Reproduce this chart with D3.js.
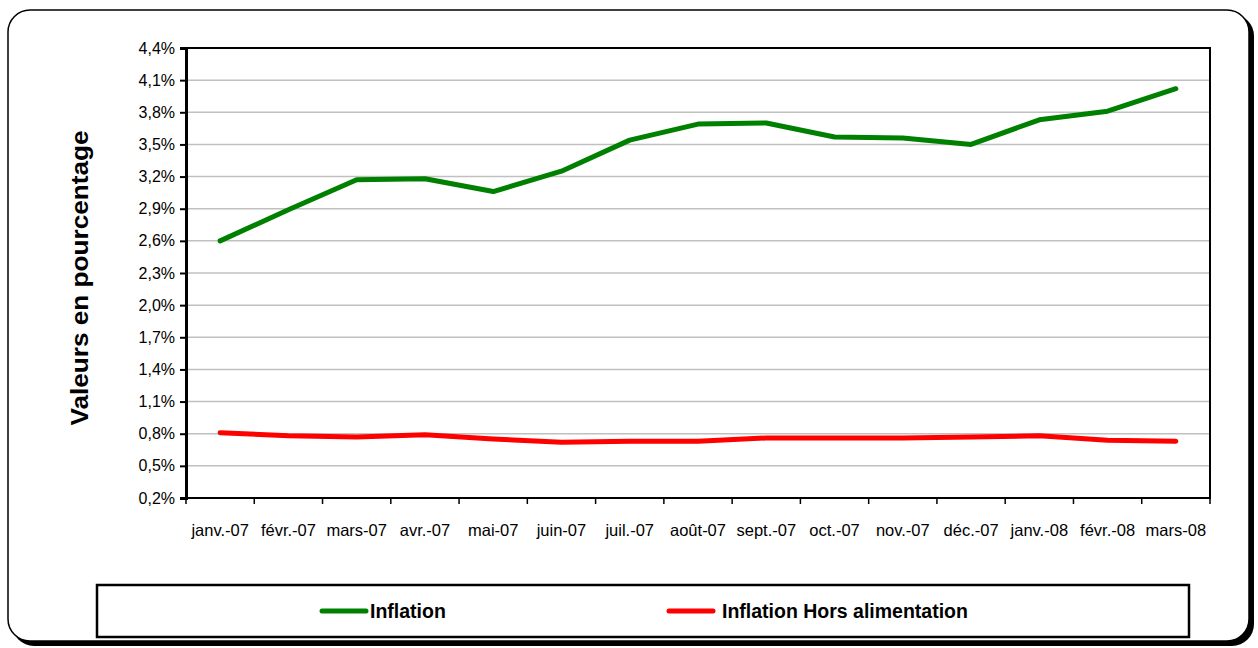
<!DOCTYPE html>
<html>
<head>
<meta charset="utf-8">
<script src="https://cdn.jsdelivr.net/npm/d3@7"></script>
<style>
body{margin:0;background:#fff;}
text{font-family:Arial,"Liberation Sans",sans-serif;}
</style>
</head>
<body>
<svg id="chart" width="1258" height="648"></svg>
<script>
var months = ['janv.-07','févr.-07','mars-07','avr.-07','mai-07','juin-07','juil.-07','août-07','sept.-07','oct.-07','nov.-07','déc.-07','janv.-08','févr.-08','mars-08'];
var inflation = [2.60,2.89,3.17,3.18,3.06,3.25,3.54,3.69,3.70,3.57,3.56,3.50,3.73,3.81,4.02];
var horsAlim = [0.81,0.78,0.77,0.79,0.75,0.72,0.73,0.73,0.76,0.76,0.76,0.77,0.78,0.74,0.73];
var yTicks = [0.2,0.5,0.8,1.1,1.4,1.7,2.0,2.3,2.6,2.9,3.2,3.5,3.8,4.1,4.4];
var seriesNames = ['Inflation','Inflation Hors alimentation'];
var colors = ['#008000','#ff0000'];

var svg = d3.select('#chart');

// outer frame with shadow
svg.append('rect').attr('x',12).attr('y',14).attr('width',1242).attr('height',632)
	.attr('rx',22).attr('fill','#000');
svg.append('rect').attr('x',8).attr('y',10).attr('width',1241).attr('height',631)
	.attr('rx',22).attr('fill','#fff').attr('stroke','#000').attr('stroke-width',1.5);

var pLeft = 186, pRight = 1210, pTop = 48, pBottom = 498;
var x = d3.scaleBand().domain(months).range([pLeft,pRight]);
var y = d3.scaleLinear().domain([0.2,4.4]).range([pBottom,pTop]);

// gridlines
svg.append('g').selectAll('line').data(yTicks.slice(1)).enter().append('line')
	.attr('x1',pLeft).attr('x2',pRight)
	.attr('y1',function(d){ return y(d); }).attr('y2',function(d){ return y(d); })
	.attr('stroke','#c0c0c0').attr('stroke-width',1.5);

// plot border
svg.append('rect').attr('x',pLeft).attr('y',pTop).attr('width',pRight-pLeft).attr('height',pBottom-pTop)
	.attr('fill','none').attr('stroke','#000').attr('stroke-width',2);

// y axis
var yAxis = d3.axisLeft(y).tickValues(yTicks).tickSize(6).tickPadding(5)
	.tickFormat(function(d){ return d.toFixed(1).replace('.',',')+'%'; });
var gy = svg.append('g').attr('transform','translate('+pLeft+',0)').call(yAxis);
gy.select('.domain').attr('stroke','#000').attr('stroke-width',3);
gy.selectAll('.tick line').attr('stroke','#000').attr('stroke-width',2);
gy.selectAll('text').attr('font-size',16).attr('fill','#000').style('font-family','Arial,"Liberation Sans",sans-serif');

// x axis
var gx = svg.append('g').attr('transform','translate(0,'+pBottom+')');
gx.append('line').attr('x1',pLeft).attr('x2',pRight).attr('stroke','#000').attr('stroke-width',2);
gx.selectAll('line.tk').data(d3.range(months.length+1)).enter().append('line').attr('class','tk')
	.attr('x1',function(i){ return pLeft + i*x.bandwidth(); })
	.attr('x2',function(i){ return pLeft + i*x.bandwidth(); })
	.attr('y1',0).attr('y2',6).attr('stroke','#000').attr('stroke-width',1.5);
gx.selectAll('text').data(months).enter().append('text')
	.attr('x',function(d){ return x(d)+x.bandwidth()/2; })
	.attr('y',38).attr('text-anchor','middle').attr('font-size',16.5).text(function(d){ return d; });

// y title
svg.append('text').attr('transform','translate(88,278) rotate(-90)')
	.attr('text-anchor','middle').attr('font-size',23).attr('font-weight','bold')
	.attr('textLength',295).attr('lengthAdjust','spacingAndGlyphs')
	.text('Valeurs en pourcentage');

// lines
var line = d3.line()
	.x(function(d,i){ return x(months[i])+x.bandwidth()/2; })
	.y(function(d){ return y(d); });
[inflation, horsAlim].forEach(function(s,k){
	svg.append('path').datum(s).attr('d',line).attr('fill','none')
		.attr('stroke',colors[k]).attr('stroke-width',5)
		.attr('stroke-linecap','round').attr('stroke-linejoin','round');
});

// legend
svg.append('rect').attr('x',97).attr('y',585).attr('width',1092).attr('height',52)
	.attr('fill','#fff').attr('stroke','#000').attr('stroke-width',2.5);
var legX = [322, 669];
var legGap = [4, 9];
seriesNames.forEach(function(n,k){
	svg.append('line').attr('x1',legX[k]).attr('x2',legX[k]+44).attr('y1',611).attr('y2',611)
		.attr('stroke',colors[k]).attr('stroke-width',5).attr('stroke-linecap','round');
	svg.append('text').attr('x',legX[k]+44+legGap[k]).attr('y',618).attr('font-size',19.5).attr('font-weight','bold').text(n);
});
</script>
</body>
</html>
